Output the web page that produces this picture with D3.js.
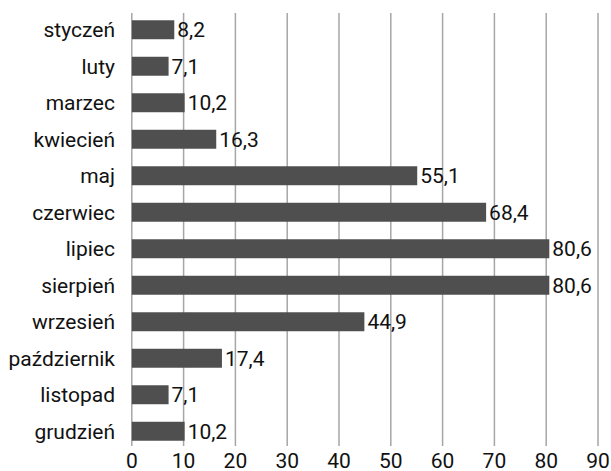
<!DOCTYPE html>
<html><head><meta charset="utf-8">
<script src="https://cdn.jsdelivr.net/npm/d3@7"></script>
<style>body{margin:0;background:#fff}svg{display:block}</style>
</head><body>
<script>
const months = ["styczeń","luty","marzec","kwiecień","maj","czerwiec","lipiec","sierpień","wrzesień","październik","listopad","grudzień"];
const values = [8.2,7.1,10.2,16.3,55.1,68.4,80.6,80.6,44.9,17.4,7.1,10.2];
const ticks = [0,10,20,30,40,50,60,70,80,90];

const W=611,H=471;
const font = "Roboto, sans-serif";
const svg=d3.select("body").append("svg").attr("width",W).attr("height",H);
const x=d3.scaleLinear().domain([0,90]).range([131.8,598]);
const y=d3.scaleBand().domain(months).range([11.5,449.5]).paddingInner(0.48).paddingOuter(0.24);

svg.append("g").selectAll("line").data(ticks).join("line")
  .attr("x1",d=>x(d)).attr("x2",d=>x(d)).attr("y1",13).attr("y2",446)
  .attr("stroke","#a6a6a6").attr("stroke-width",1.5);

svg.append("g").selectAll("rect").data(values).join("rect")
  .attr("x",x(0)).attr("y",(d,i)=>y(months[i])).attr("width",d=>x(d)-x(0)).attr("height",y.bandwidth())
  .attr("fill","#4f4f4f");

const fmt=d=>d.toFixed(1).replace(".",",");
svg.append("g").selectAll("text").data(values).join("text")
  .attr("x",d=>x(d)+3).attr("y",(d,i)=>y(months[i])+y.bandwidth()/2).attr("dy","0.36em")
  .attr("font-family",font).attr("font-size",21).attr("fill","#111").text(fmt);

svg.append("g").selectAll("text").data(months).join("text")
  .attr("x",115).attr("y",d=>y(d)+y.bandwidth()/2).attr("dy","0.36em").attr("text-anchor","end")
  .attr("font-family",font).attr("font-size",21).attr("fill","#111").text(d=>d);

svg.append("g").selectAll("text").data(ticks).join("text")
  .attr("x",d=>x(d)).attr("y",468).attr("text-anchor","middle")
  .attr("font-family",font).attr("font-size",21).attr("fill","#111").text(d=>d);
</script>
</body></html>
